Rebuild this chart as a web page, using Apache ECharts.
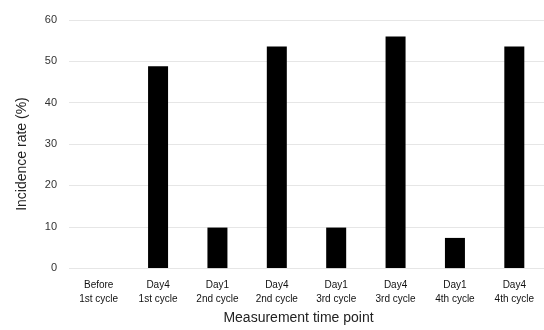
<!DOCTYPE html>
<html><head><meta charset="utf-8">
<script src="https://cdn.jsdelivr.net/npm/echarts@6/dist/echarts.min.js"></script>
<style>html,body{margin:0;padding:0;background:#fff}#c{width:544px;height:330px}</style>
</head><body><div id="c"></div>
<script>
const categories = ["Before\n1st cycle","Day4\n1st cycle","Day1\n2nd cycle","Day4\n2nd cycle","Day1\n3rd cycle","Day4\n3rd cycle","Day1\n4th cycle","Day4\n4th cycle"];
const incidence = [0, 48.8, 9.8, 53.6, 9.8, 56.0, 7.3, 53.6];
const yTicks = {min: 0, max: 60, interval: 10};
const xTitle = "Measurement time point";
const yTitle = "Incidence rate (%)";

const chart = echarts.init(document.getElementById('c'), null, {renderer: 'canvas'});
chart.setOption({
  animation: false,
  grid: {left: 69, top: 20, width: 483, height: 253, containLabel: false},
  xAxis: {
    type: 'category', data: categories,
    axisLine: {show: false}, axisTick: {show: false},
    axisLabel: {fontFamily: 'Liberation Sans', fontSize: 10, color: '#111', lineHeight: 14, margin: 10, interval: 0},
    name: xTitle, nameLocation: 'middle', nameGap: 42,
    nameTextStyle: {fontFamily: 'Liberation Sans', fontSize: 14, color: '#222', padding: [0, 16, 0, 0]}
  },
  yAxis: {
    type: 'value', min: yTicks.min, max: yTicks.max, interval: yTicks.interval,
    axisLine: {show: false}, axisTick: {show: false},
    splitLine: {lineStyle: {color: '#e6e6e6', width: 1}},
    axisLabel: {fontFamily: 'Liberation Sans', fontSize: 11, color: '#333', margin: 12},
    name: yTitle, nameLocation: 'middle', nameGap: 40, nameRotate: 90,
    nameTextStyle: {fontFamily: 'Liberation Sans', fontSize: 14, color: '#222', padding: [0, 20, 0, 0]}
  },
  series: [{
    type: 'bar', data: incidence, barWidth: 20,
    itemStyle: {color: '#000'}
  }]
});
</script></body></html>
